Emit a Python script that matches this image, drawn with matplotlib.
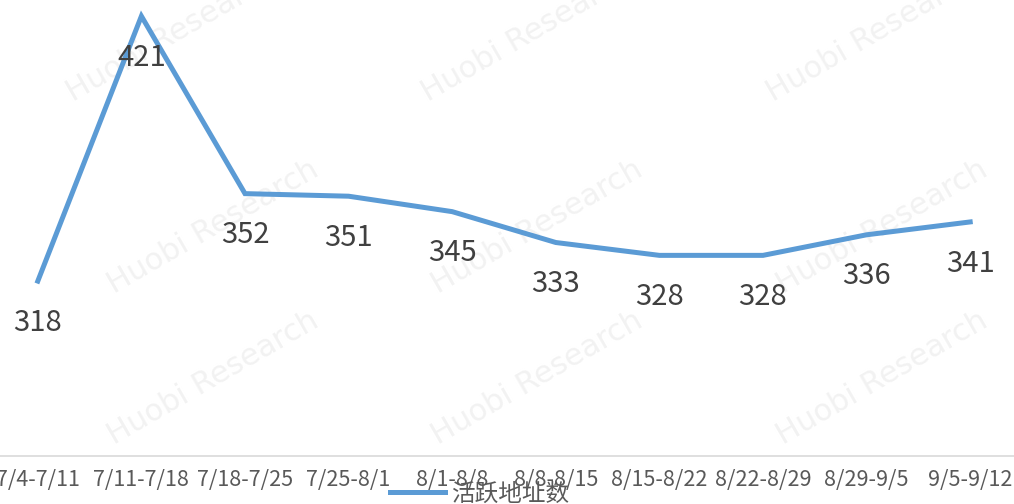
import matplotlib.pyplot as plt

plt.rcParams['font.family'] = ['Noto Sans CJK SC', 'DejaVu Sans']

periodos = ['7/4-7/11', '7/11-7/18', '7/18-7/25', '7/25-8/1', '8/1-8/8',
            '8/8-8/15', '8/15-8/22', '8/22-8/29', '8/29-9/5', '9/5-9/12']
enderecos = [318, 421, 352, 351, 345, 333, 328, 328, 336, 341]

fig = plt.figure(figsize=(10.14, 5.04), dpi=100)
ax = fig.add_axes([-14 / 1014, 48 / 504, 1036 / 1014, 463 / 504])

# marca d'agua
for wx, wy in [(0.17, 0.93), (0.52, 0.93), (0.86, 0.93),
               (0.21, 0.55), (0.53, 0.55), (0.87, 0.55),
               (0.21, 0.25), (0.53, 0.25), (0.87, 0.25)]:
    ax.text(wx, wy, 'Huobi Research', rotation=30, fontsize=22, color='#f2f2f2',
            ha='center', va='center', zorder=1, family='DejaVu Sans',
            transform=fig.transFigure)

x = list(range(len(periodos)))
ax.plot(x, enderecos, color='#5B9BD5', lw=3.6, label='活跃地址数', zorder=3,
        solid_joinstyle='miter')
for xi, v in zip(x, enderecos):
    ax.annotate(str(v), (xi, v), xytext=(0, -30), textcoords='offset points',
                ha='center', va='center', fontsize=21, color='#404040', zorder=4)

ax.set_xlim(-0.5, len(periodos) - 0.5)
ax.set_ylim(250, 430)
ax.set_xticks(x)
ax.set_xticklabels(periodos, fontsize=15.5, color='#595959')
ax.tick_params(axis='x', length=0, pad=9)
ax.set_yticks([])
for s in ['top', 'right', 'left']:
    ax.spines[s].set_visible(False)
ax.spines['bottom'].set_color('#d9d9d9')
ax.spines['bottom'].set_linewidth(1.2)
ax.patch.set_alpha(0)

fig.legend(loc='center', bbox_to_anchor=(480 / 1014, 10 / 504), frameon=False,
           fontsize=17, labelcolor='#595959', handlelength=2.3, handletextpad=0.3)

fig.savefig('out.png', dpi=100)
